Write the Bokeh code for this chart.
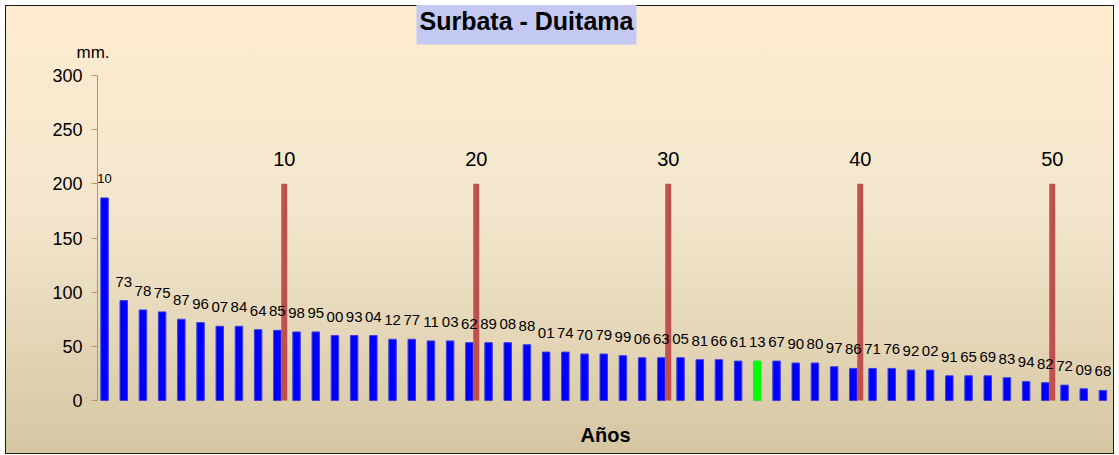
from bokeh.plotting import figure
from bokeh.models import ColumnDataSource, Range1d, FixedTicker, Title, Label
from bokeh.core.properties import value
from bokeh.embed import file_html
from bokeh.resources import INLINE

# ---- data ----
years = ["10", "73", "78", "75", "87", "96", "07", "84", "64", "85",
         "98", "95", "00", "93", "04", "12", "77", "11", "03", "62",
         "89", "08", "88", "01", "74", "70", "79", "99", "06", "63",
         "05", "81", "66", "61", "13", "67", "90", "80", "97", "86",
         "71", "76", "92", "02", "91", "65", "69", "83", "94", "82",
         "72", "09", "68"]
rain_mm = [187.0, 92.3, 83.6, 81.8, 75.0, 71.9, 68.5, 68.5, 65.4, 64.8,
           63.3, 63.3, 60.0, 60.0, 60.0, 56.5, 56.5, 55.0, 55.0, 53.4,
           53.4, 53.4, 51.5, 44.7, 44.7, 42.9, 42.9, 41.4, 39.5, 39.5,
           39.5, 37.7, 37.7, 36.4, 36.4, 36.4, 34.6, 34.6, 31.2, 29.6,
           29.6, 29.6, 28.1, 28.1, 22.8, 22.8, 22.8, 21.0, 17.6, 16.4,
           14.2, 10.8, 9.3]
marker_pos = [10, 20, 30, 40, 50]
marker_labels = ["10", "20", "30", "40", "50"]
marker_value = [200, 200, 200, 200, 200]
highlight_year = "13"
y_ticks = [0, 50, 100, 150, 200, 250, 300]
title_text = "Surbata - Duitama"
y_unit = "mm."
x_title = "Años"

FONT = "Liberation Sans"
W, H = 1109, 449

rank = list(range(1, len(years) + 1))
bar_x = [r - 0.18 for r in rank]
bar_fill = ["#00FF00" if y == highlight_year else "#0000FF" for y in years]
bar_edge = ["#33DD33" if y == highlight_year else "#4040D8" for y in years]
lab_size = ["13px" if i == 0 else "15px" for i in range(len(years))]

src = ColumnDataSource(dict(x=bar_x, top=rain_mm, fill=bar_fill, edge=bar_edge,
                            lab=years, size=lab_size))
msrc = ColumnDataSource(dict(x=[m + 0.18 for m in marker_pos], top=marker_value,
                             lab=marker_labels))

# frame spans down to the bottom of the chart so the x title can sit inside it
p = figure(width=W, height=H, output_backend="svg", toolbar_location=None,
           x_range=Range1d(0.453, 53.37), y_range=Range1d(-48, 300),
           x_axis_location=None,
           min_border_left=92, min_border_right=1, min_border_top=70,
           min_border_bottom=2)
p.title = None
p.background_fill_alpha = 0
p.border_fill_alpha = 0
p.outline_line_color = None
p.grid.visible = False
p.styles = {"background": "linear-gradient(to bottom, #FCEBCF 0%, #F4E7CE 45%, #D5C6A2 100%)",
            "outline": "1px solid #1a1a1a", "outline-offset": "-1px",
            "margin-left": "5px", "margin-top": "5px"}

ya = p.yaxis[0]
ya.ticker = FixedTicker(ticks=y_ticks)
ya.bounds = (0, 300)
ya.axis_line_color = "#B8946A"
ya.major_tick_line_color = "#B8946A"
ya.major_tick_out = 6
ya.major_tick_in = 0
ya.minor_tick_line_color = None
ya.major_label_standoff = 9
ya.major_label_text_font = FONT
ya.major_label_text_font_size = "18px"
ya.major_label_text_color = "#000000"

p.vbar(x="x", top="top", bottom=0, width=0.39, source=src,
       fill_color="fill", line_color="edge", line_width=1)
p.vbar(x="x", top="top", bottom=0, width=0.31, source=msrc,
       fill_color="#C0504D", line_color="#C0504D", line_width=0)

p.text(x="x", y="top", text="lab", source=src, text_font=value(FONT),
       text_font_size="size", text_align="center", text_baseline="alphabetic",
       y_offset=-19, text_color="#000000")
p.text(x="x", y="top", text="lab", source=msrc, text_font=value(FONT),
       text_font_size="20px", text_align="center", text_baseline="alphabetic",
       y_offset=-25, text_color="#000000")

t_unit = Title(text=y_unit, align="left", offset=-21, standoff=28,
               text_font=FONT, text_font_size="17px", text_font_style="normal",
               text_color="#000000")
t_main = Title(text=title_text, align="left", offset=319, standoff=-36,
               text_font=FONT, text_font_size="25px", text_font_style="bold",
               text_color="#000000", background_fill_color="#C3C9F3",
               padding=dict(left=3, right=3, top=10, bottom=10))
p.add_layout(t_unit, "above")
p.add_layout(t_main, "above")

# x title, positioned relative to the frame's left and bottom edges
p.add_layout(Label(x=508, y=18, x_units="screen", y_units="screen",
                   text=x_title, text_font=FONT, text_font_size="20px",
                   text_font_style="bold", text_align="center",
                   text_baseline="alphabetic", text_color="#000000"))

open("out.html", "w").write(file_html(p, INLINE))
